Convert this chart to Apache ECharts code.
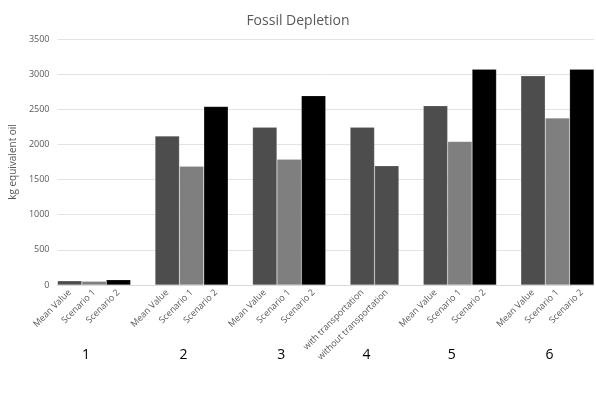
<!DOCTYPE html>
<html>
<head>
<meta charset="utf-8">
<script src="https://cdn.jsdelivr.net/npm/echarts@6/dist/echarts.min.js"></script>
<style>html,body{margin:0;padding:0;background:#fff}#c{width:596px;height:397px}</style>
</head>
<body>
<div id="c"></div>
<script>
const titleText = 'Fossil Depletion';
const yAxisName = 'kg equivalent oil';
const yTicks = [0, 500, 1000, 1500, 2000, 2500, 3000, 3500];
const groupLabels = ['1', '2', '3', '4', '5', '6'];
const scenarioLabels = ['Mean Value', 'Scenario 1', 'Scenario 2'];
const transportLabels = ['with transportation', 'without transportation'];
const values1 = [60, 53, 75];
const values2 = [2119, 1688, 2540];
const values3 = [2243, 1790, 2694];
const values4 = [2243, 1695];
const values5 = [2551, 2043, 3071];
const values6 = [2976, 2376, 3071];

const scenarioColors = ['#4d4d4d', '#7f7f7f', '#000000'];
const transportColors = ['#4d4d4d', '#4d4d4d'];

const groups = [
  {labels: scenarioLabels, values: values1, colors: scenarioColors},
  {labels: scenarioLabels, values: values2, colors: scenarioColors},
  {labels: scenarioLabels, values: values3, colors: scenarioColors},
  {labels: transportLabels, values: values4, colors: transportColors},
  {labels: scenarioLabels, values: values5, colors: scenarioColors},
  {labels: scenarioLabels, values: values6, colors: scenarioColors}
];

const categories = [];
const seriesData = [];
const groupRanges = [];
groups.forEach((g, gi) => {
  if (gi > 0) { categories.push(''); seriesData.push('-'); }
  const start = categories.length;
  g.labels.forEach((l, i) => {
    categories.push(l);
    seriesData.push({value: g.values[i], itemStyle: {color: g.colors[i]}});
  });
  groupRanges.push([start, categories.length - 1]);
});

const chart = echarts.init(document.getElementById('c'), null, {renderer: 'canvas'});
const font = '"Open Sans", "Liberation Sans", sans-serif';
chart.setOption({
  animation: false,
  backgroundColor: '#fff',
  title: {
    text: titleText, left: 'center', top: 9,
    textStyle: {fontFamily: font, fontSize: 14, fontWeight: 'normal', color: '#595959'}
  },
  grid: {left: 57, right: 2, top: 39, bottom: 112, containLabel: false},
  xAxis: {
    type: 'category', data: categories,
    axisLine: {lineStyle: {color: '#d9d9d9'}},
    axisTick: {show: false},
    axisLabel: {interval: 0, rotate: 45, fontFamily: font, fontSize: 9, color: '#595959', margin: 6}
  },
  yAxis: {
    type: 'value', min: yTicks[0], max: yTicks[yTicks.length - 1], interval: yTicks[1] - yTicks[0],
    name: yAxisName, nameLocation: 'middle', nameGap: 33,
    nameTextStyle: {fontFamily: font, fontSize: 10, color: '#595959'},
    axisLine: {show: false}, axisTick: {show: false},
    axisLabel: {fontFamily: font, fontSize: 9, color: '#595959', margin: 8, formatter: v => String(v)},
    splitLine: {lineStyle: {color: '#e3e3e3'}}
  },
  series: [{
    type: 'bar', data: seriesData, barCategoryGap: '0%',
    itemStyle: {borderColor: 'rgba(255,255,255,0.35)', borderWidth: 0.5}
  }]
});

const graphics = groupLabels.map((t, i) => {
  const [a, b] = groupRanges[i];
  const xa = chart.convertToPixel({xAxisIndex: 0}, a);
  const xb = chart.convertToPixel({xAxisIndex: 0}, b);
  return {
    type: 'text', x: (xa + xb) / 2 - 8, y: 355,
    style: {text: t, fontFamily: font, fontSize: 14, fill: '#000', align: 'center', verticalAlign: 'middle'}
  };
});
chart.setOption({graphic: graphics});
</script>
</body>
</html>
